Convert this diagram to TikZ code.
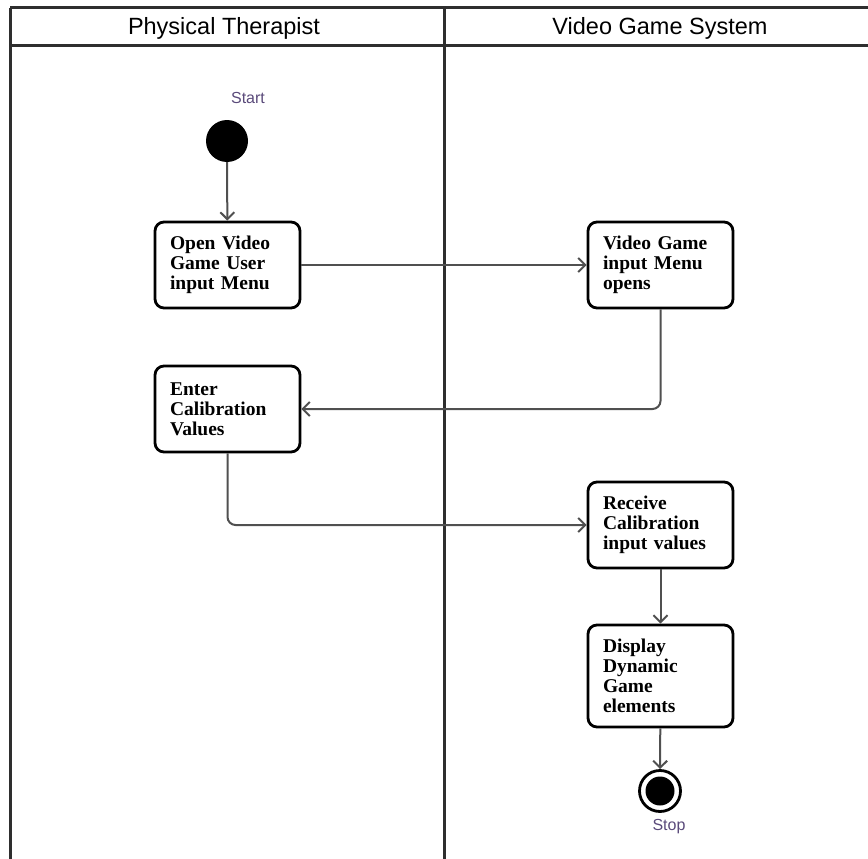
\documentclass[tikz,border=0pt]{standalone}
\usepackage{fontspec}
\setmainfont{Liberation Serif}
\newfontfamily\lanefont{Liberation Sans}
\usetikzlibrary{arrows.meta}

\definecolor{framegray}{HTML}{2E2E2E}
\definecolor{wiregray}{HTML}{505050}
\definecolor{tagpurple}{HTML}{5A4A7A}

\begin{document}
\begin{tikzpicture}[x=1pt,y=-1pt,
  laneline/.style={draw=framegray, line width=3pt},
  lanetitle/.style={font=\lanefont\fontsize{23.5}{26}\selectfont, text=black},
  activity/.style={draw=black, line width=2.8pt, rounded corners=9pt, fill=white,
    minimum width=145pt, text width=115pt, inner xsep=15pt, inner ysep=0pt,
    align=left, font=\bfseries\fontsize{19.5}{20}\selectfont},
  flow/.style={draw=wiregray, line width=2pt, rounded corners=8pt,
    -{Straight Barb[length=7pt,width=14pt,line width=2pt]}},
  statetag/.style={font=\lanefont\fontsize{16}{18}\selectfont, text=tagpurple},
  initstate/.style={circle, fill=black, minimum size=42pt, inner sep=0pt},
  finalring/.style={circle, draw=black, line width=2.8pt, fill=white, minimum size=41pt, inner sep=0pt},
  finaldot/.style={circle, fill=black, minimum size=29pt, inner sep=0pt}]

\clip (0,0) rectangle (868,859);

% swimlane frame
\draw[laneline] (10,8) -- (880,8);
\draw[laneline] (10,46) -- (880,46);
\draw[laneline] (10,8) -- (10,870);
\draw[laneline] (444,8) -- (444,870);

\node[lanetitle] (laneA) at (224,28) {Physical Therapist};
\node[lanetitle] (laneB) at (660,28) {Video Game System};

% start / stop states
\node[statetag] (starttag) at (248,98) {Start};
\node[initstate] (start) at (227,141) {};

\node[finalring] (stop) at (660,791) {};
\node[finaldot] (stopdot) at (660,791) {};
\node[statetag] (stoptag) at (669,827) {Stop};

% activities
\node[activity, minimum height=86pt] (open) at (227.5,265) {Open Video\\Game User\\input Menu};
\node[activity, minimum height=86pt] (menu) at (660.5,265) {Video Game\\input Menu\\opens};
\node[activity, minimum height=86pt] (enter) at (227.5,409) {Enter\\Calibration\\Values};
\node[activity, minimum height=86pt] (receive) at (660.5,525) {Receive\\Calibration\\input values};
\node[activity, minimum height=102pt] (display) at (660.5,676) {Display\\Dynamic\\Game\\elements};

% control flow
\draw[flow] (start) -- (open);
\draw[flow] (open) -- (menu);
\draw[flow] (menu.south) |- (enter.east);
\draw[flow] (enter.south) |- (receive.west);
\draw[flow] (receive) -- (display);
\draw[flow] (display) -- (stop);
\end{tikzpicture}
\end{document}
